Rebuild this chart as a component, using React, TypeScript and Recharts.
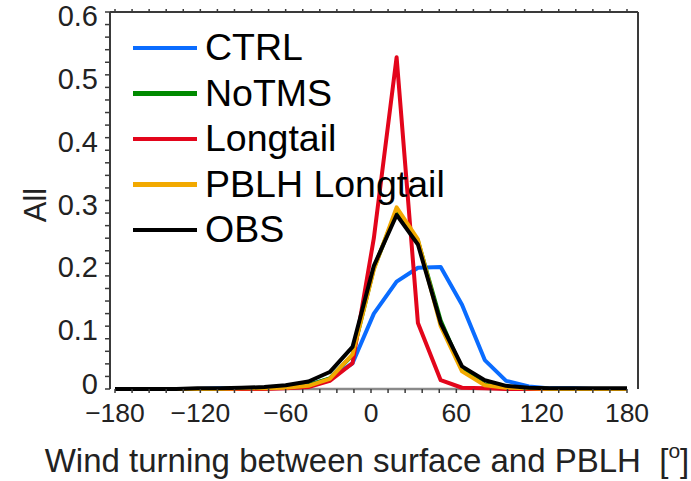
import React from "react";
import {
  LineChart,
  Line,
  XAxis,
  YAxis,
  ReferenceLine,
} from "recharts";

// bin centres of the wind-turning histogram (degrees)
const angles = [-180, -168, -153, -137, -122, -106, -91, -75, -60, -44, -29, -13, 2, 18, 33, 49, 64, 80, 95, 111, 126, 142, 157, 173, 180];

const ctrl = [0, 0, 0, 0, 0, 0.001, 0.001, 0.002, 0.004, 0.007, 0.016, 0.041, 0.12, 0.171, 0.193, 0.194, 0.134, 0.046, 0.013, 0.004, 0.001, 0.001, 0, 0, 0];
const noTms = [0, 0, 0, 0, 0, 0, 0.001, 0.001, 0.003, 0.006, 0.017, 0.054, 0.192, 0.284, 0.236, 0.109, 0.031, 0.007, 0.002, 0.001, 0, 0, 0, 0, 0];
const longtail = [0, 0, 0, 0, 0, 0, 0, 0, 0.001, 0.003, 0.013, 0.041, 0.24, 0.528, 0.105, 0.014, 0.002, 0.001, 0, 0, 0, 0, 0, 0, 0];
const pblhLongtail = [0, 0, 0, 0, 0, 0, 0.001, 0.001, 0.002, 0.005, 0.016, 0.055, 0.19, 0.289, 0.238, 0.1, 0.028, 0.006, 0.002, 0.001, 0, 0, 0, 0, 0];
const obs = [0, 0, 0, 0, 0.001, 0.001, 0.002, 0.003, 0.006, 0.012, 0.027, 0.067, 0.196, 0.277, 0.23, 0.105, 0.036, 0.014, 0.005, 0.002, 0.001, 0.001, 0.001, 0.001, 0.001];

const seriesNames = ["CTRL", "NoTMS", "Longtail", "PBLH Longtail", "OBS"];
const seriesKeys = ["ctrl", "noTms", "longtail", "pblhLongtail", "obs"];
const seriesColors = ["#0a6cff", "#008a00", "#e3051b", "#f2a900", "#000000"];

const xMajorStep = 60;
const xTicks = Array.from({ length: 31 }, (_, i) => -180 + 12 * i);
const yTicks = Array.from({ length: 31 }, (_, i) => Number((i * 0.02).toFixed(2)));

const data = angles.map((a, i) => ({
  angle: a,
  ctrl: ctrl[i],
  noTms: noTms[i],
  longtail: longtail[i],
  pblhLongtail: pblhLongtail[i],
  obs: obs[i],
}));

const font = '"Liberation Sans", Arial, Helvetica, sans-serif';
const axisColor = "#3a3a3a";

const fmtX = (v: number) =>
  v % xMajorStep === 0 ? (v < 0 ? "\u2212" + Math.abs(v) : String(v)) : "";
const fmtY = (v: number) => {
  const k = Math.round(v * 100);
  if (k % 10 !== 0) return "";
  return k === 0 ? "0" : (k / 100).toFixed(1);
};
const blank = () => "";

// y labels sit a little below their ticks, the zero one a little above
function YTick(props: any) {
  const { x, y, payload } = props;
  const label = fmtY(payload.value);
  if (!label) return <g />;
  const dy = payload.value === 0 ? -5 : 4;
  return (
    <text x={x} y={y + dy} textAnchor="end" dominantBaseline="central" fill="#222" fontSize={29} fontFamily={font}>
      {label}
    </text>
  );
}

function Legendbox() {
  return (
    <div style={{ position: "absolute", left: 133, top: 25, fontFamily: font }}>
      {seriesNames.map((name, i) => (
        <div key={name} style={{ display: "flex", alignItems: "center", height: 45.5 }}>
          <div style={{ width: 64, height: 4.5, background: seriesColors[i], marginRight: 8 }} />
          <span style={{ fontSize: 37.5, color: "#000", lineHeight: "45px" }}>{name}</span>
        </div>
      ))}
    </div>
  );
}

export default function App() {
  return (
    <div style={{ position: "absolute", left: 0, top: 0, width: 691, height: 481, background: "#fff" }}>
      <LineChart
        width={691}
        height={481}
        data={data}
        margin={{ top: 8, right: 45, left: 10, bottom: 52 }}
      >
        <XAxis
          dataKey="angle"
          type="number"
          domain={[-180, 180]}
          ticks={xTicks}
          interval={0}
          padding={{ left: 5, right: 11 }}
          height={40}
          axisLine={false}
          tickLine={{ stroke: axisColor, strokeWidth: 1.5 }}
          tickSize={4}
          tickMargin={10}
          tickFormatter={fmtX}
          tick={{ fill: "#222", fontSize: 26.5, fontFamily: font }}
          label={{
            content: () => (
              <text x={367} y={472} textAnchor="middle" fill="#222" fontSize={33} fontFamily={font}>
                Wind turning between surface and PBLH{"\u00a0\u00a0"}[
                <tspan fontSize={21} dy={-14}>o</tspan>
                <tspan dy={14}>]</tspan>
              </text>
            ),
          }}
        />
        <XAxis
          xAxisId="top"
          orientation="top"
          dataKey="angle"
          type="number"
          domain={[-180, 180]}
          ticks={xTicks}
          interval={0}
          padding={{ left: 5, right: 11 }}
          height={4}
          axisLine={{ stroke: axisColor, strokeWidth: 2 }}
          tickLine={{ stroke: axisColor, strokeWidth: 1.5 }}
          tickSize={3}
          tickFormatter={blank}
        />
        <YAxis
          domain={[0, 0.6]}
          ticks={yTicks}
          interval={0}
          width={100}
          axisLine={{ stroke: axisColor, strokeWidth: 2 }}
          tickLine={{ stroke: axisColor, strokeWidth: 1.5 }}
          tickSize={5}
          tickMargin={7}
          tick={<YTick />}
          label={{
            content: () => (
              <text
                x={35}
                y={205}
                transform="rotate(-90 35 205)"
                textAnchor="middle"
                dominantBaseline="central"
                fill="#222"
                fontSize={31}
                fontFamily={font}
              >
                All
              </text>
            ),
          }}
        />
        <YAxis
          yAxisId="r"
          orientation="right"
          domain={[0, 0.6]}
          ticks={yTicks}
          interval={0}
          width={8}
          axisLine={{ stroke: axisColor, strokeWidth: 2 }}
          tickLine={{ stroke: axisColor, strokeWidth: 1.5 }}
          tickSize={3}
          tickFormatter={blank}
        />
        <ReferenceLine
          segment={[{ x: -180, y: 0 }, { x: 180, y: 0 }]}
          stroke="#8a8a8a"
          strokeWidth={2.5}
        />
        {seriesKeys.map((k, i) => (
          <Line
            key={k}
            type="linear"
            dataKey={k}
            name={seriesNames[i]}
            stroke={seriesColors[i]}
            strokeWidth={4}
            strokeLinejoin="round"
            dot={false}
            isAnimationActive={false}
          />
        ))}
      </LineChart>
      <Legendbox />
    </div>
  );
}
